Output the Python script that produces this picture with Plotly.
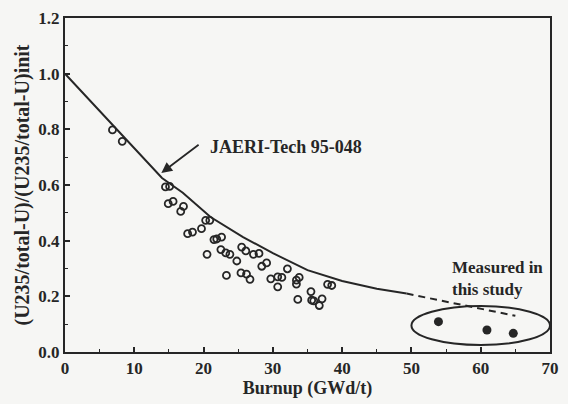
import plotly.graph_objects as go

# Calculated points (open circles)
calc_burnup = [6.85, 8.26, 14.5, 15.1, 14.9, 15.6, 16.7, 17.1, 20.3, 20.9, 17.7, 18.4, 19.7,
               21.5, 21.9, 22.6, 20.5, 22.5, 23.2, 23.8, 24.8, 25.5, 26.1, 27.2, 28.0, 28.4,
               29.1, 23.3, 25.4, 26.2, 26.7, 29.7, 30.7, 31.3, 30.7, 32.1, 33.4, 33.8, 33.4,
               33.6, 35.5, 35.6, 35.9, 36.7, 37.1, 37.9, 38.5]
calc_ratio = [0.798, 0.757, 0.593, 0.595, 0.533, 0.541, 0.505, 0.523, 0.473, 0.473, 0.425, 0.431, 0.443,
              0.404, 0.406, 0.413, 0.351, 0.368, 0.356, 0.351, 0.327, 0.377, 0.363, 0.351, 0.354, 0.308,
              0.320, 0.275, 0.284, 0.280, 0.261, 0.263, 0.270, 0.268, 0.234, 0.299, 0.258, 0.268, 0.244,
              0.189, 0.217, 0.186, 0.184, 0.167, 0.191, 0.243, 0.239]

# Measured in this study (filled)
meas_burnup = [53.9, 60.9, 64.7]
meas_ratio = [0.109, 0.079, 0.067]

# JAERI-Tech 95-048 curve
curve_burnup = [0, 14, 17, 21, 25.7, 30, 35, 40, 45, 49.3]
curve_ratio = [1.0, 0.625, 0.572, 0.485, 0.413, 0.355, 0.294, 0.255, 0.227, 0.21]

# Extrapolation (dashed)
extrap_burnup = [49.3, 65]
extrap_ratio = [0.21, 0.13]

ink = "#262626"
font_family = "Liberation Serif"

fig = go.Figure()
fig.add_trace(go.Scatter(x=curve_burnup, y=curve_ratio, mode="lines",
                         line=dict(color=ink, width=2), showlegend=False))
fig.add_trace(go.Scatter(x=extrap_burnup, y=extrap_ratio, mode="lines",
                         line=dict(color=ink, width=2, dash="7px,5px"), showlegend=False))
fig.add_trace(go.Scatter(x=calc_burnup, y=calc_ratio, mode="markers",
                         marker=dict(symbol="circle-open", size=7, color=ink, line=dict(width=1.8)),
                         showlegend=False))
fig.add_trace(go.Scatter(x=meas_burnup, y=meas_ratio, mode="markers",
                         marker=dict(symbol="circle", size=9, color=ink), showlegend=False))

fig.add_shape(type="circle", xref="x", yref="y", x0=50, x1=70, y0=0.025, y1=0.165,
              line=dict(color=ink, width=2))

fig.add_annotation(x=13.9, y=0.643, ax=19.5, ay=0.749, xref="x", yref="y", axref="x", ayref="y",
                   text="", showarrow=True, arrowhead=2, arrowsize=1.2, arrowwidth=1.8, arrowcolor=ink)
fig.add_annotation(x=20.7, y=0.738, xref="x", yref="y", text="<b>JAERI-Tech 95-048</b>",
                   showarrow=False, xanchor="left", yanchor="middle",
                   font=dict(family=font_family, size=18, color=ink))
fig.add_annotation(x=55.6, y=0.265, xref="x", yref="y", text="<b>Measured in<br>this study</b>",
                   showarrow=False, xanchor="left", yanchor="middle", align="left",
                   font=dict(family=font_family, size=17, color=ink))

tick_font = dict(family=font_family, size=17, color=ink, weight="bold")
axis_common = dict(showline=True, linecolor=ink, linewidth=2, mirror=True, showgrid=False,
                   zeroline=False, ticks="inside", ticklen=5, tickwidth=1.5, tickcolor=ink,
                   tickfont=tick_font)

fig.update_xaxes(range=[0, 70], tickvals=[0, 10, 20, 30, 40, 50, 60, 70],
                 minor=dict(dtick=5, ticks="inside", ticklen=3, tickcolor=ink, tickwidth=1.2),
                 title=dict(text="<b>Burnup (GWd/t)</b>", font=dict(family=font_family, size=18, color=ink),
                            standoff=0),
                 **axis_common)
fig.update_yaxes(range=[0, 1.2], tickvals=[0, 0.2, 0.4, 0.6, 0.8, 1.0, 1.2], tickformat=".1f",
                 minor=dict(dtick=0.1, ticks="inside", ticklen=3, tickcolor=ink, tickwidth=1.2),
                 title=dict(text="<b>(U235/total-U)/(U235/total-U)init</b>",
                            font=dict(family=font_family, size=20, color=ink), standoff=3),
                 **axis_common)

fig.update_layout(width=568, height=404, margin=dict(l=65, r=9, t=17, b=52),
                  paper_bgcolor="#f6f6f4", plot_bgcolor="#f6f6f4")

fig.write_html("out.html", config={"displayModeBar": False},
               post_script="document.body.style.margin='0px';")
